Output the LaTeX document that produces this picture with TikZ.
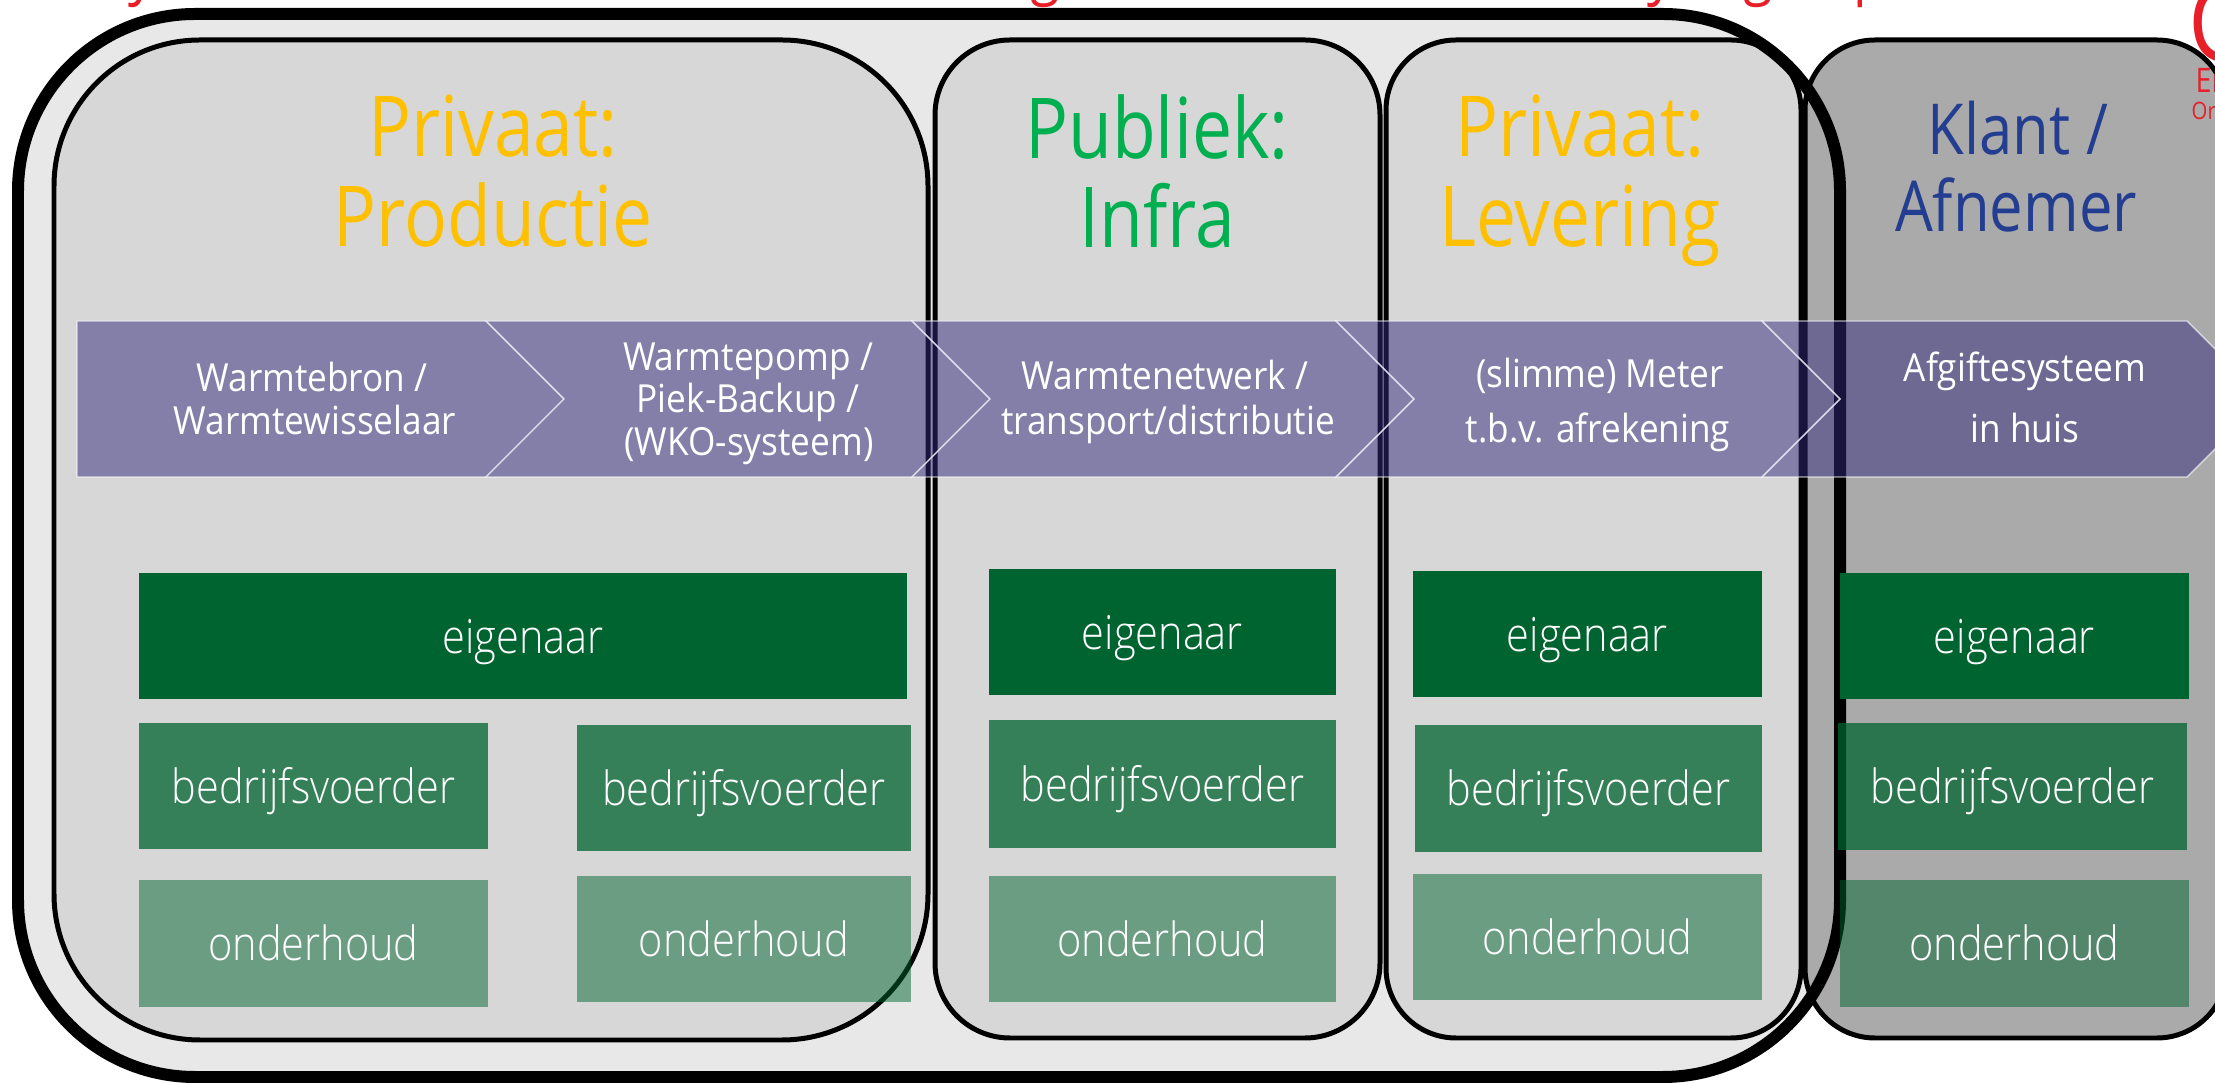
\documentclass[tikz,border=0pt]{standalone}
\usepackage{fontspec}
\IfFontExistsTF{Open Sans Light}{\newfontfamily\litefont{Open Sans Light}[FakeStretch=0.88]}{\newfontfamily\litefont{Open Sans}[FakeStretch=0.88]}
\newfontfamily\chevfont{Open Sans}[FakeStretch=0.91]
\newfontfamily\headfont{Open Sans}[FakeStretch=0.85]
\setmainfont{Open Sans}
\definecolor{outerfill}{HTML}{E8E8E8}
\definecolor{innerfill}{HTML}{D7D7D7}
\definecolor{klantfill}{HTML}{AAAAAA}
\definecolor{bandcol}{RGB}{51,41,125}
\definecolor{greenbox}{RGB}{0,100,48}
\definecolor{orangetitle}{HTML}{FFC000}
\definecolor{greentitle}{HTML}{00B050}
\definecolor{bluetitle}{RGB}{35,62,145}
\definecolor{redtxt}{RGB}{232,30,40}
\begin{document}
\begin{tikzpicture}[x=0.01cm, y=-0.01cm,
  column/.style={draw=black, line width=1.42pt},
  chev/.style={fill=bandcol, fill opacity=0.5, draw=white, draw opacity=0.65, line width=0.4pt},
  rolebox/.style={fill=greenbox, text=white, text opacity=1, inner sep=0pt,
    font=\litefont\fontsize{13.4}{16}\selectfont, text height=12pt, text depth=2.32pt},
  chevtext/.style={text=white, inner sep=0pt, anchor=base, font=\chevfont\fontsize{11}{13}\selectfont},
  titletext/.style={inner sep=0pt, anchor=base, font=\headfont\fontsize{23.9}{26}\selectfont},
  klanttext/.style={inner sep=0pt, anchor=base, text=bluetitle, font=\headfont\fontsize{20}{22}\selectfont},
  redfrag/.style={inner sep=0pt, text=redtxt}
]
\useasboundingbox (0,0) rectangle (2215,1083);
\clip (0,0) rectangle (2215,1083);

% outer container fill
\path[fill=outerfill, rounded corners=1.77cm] (18,14) rectangle (1840,1077);

% columns
\draw[column, fill=innerfill, rounded corners=1.46cm] (54,40) rectangle (928,1040);
\draw[column, fill=innerfill, rounded corners=0.75cm] (935,40) rectangle (1380,1038);
\draw[column, fill=innerfill, rounded corners=0.70cm] (1386,40) rectangle (1801,1038);
\draw[column, fill=klantfill, rounded corners=0.70cm] (1805,40) rectangle (2227,1038);

% outer container border
\draw[line width=3.41pt, rounded corners=1.77cm] (18,14) rectangle (1840,1077);

% process band
\path[chev] (77,321) -- (486,321) -- (564,399) -- (486,477) -- (77,477) -- cycle;
\path[chev] (486,321) -- (912,321) -- (990,399) -- (912,477) -- (486,477) -- (564,399) -- cycle;
\path[chev] (912,321) -- (1336,321) -- (1414,399) -- (1336,477) -- (912,477) -- (990,399) -- cycle;
\path[chev] (1336,321) -- (1762,321) -- (1840,399) -- (1762,477) -- (1336,477) -- (1414,399) -- cycle;
\path[chev] (1762,321) -- (2187,321) -- (2265,399) -- (2187,477) -- (1762,477) -- (1840,399) -- cycle;

\node[chevtext] (c1a) at (312,392) {Warmtebron /};
\node[chevtext] (c1b) at (315,435) {Warmtewisselaar};
\node[chevtext] (c2a) at (748,371) {Warmtepomp /};
\node[chevtext] (c2b) at (748,413) {Piek-Backup /};
\node[chevtext] (c2c) at (749,456) {(WKO-systeem)};
\node[chevtext] (c3a) at (1165,390) {Warmtenetwerk /};
\node[chevtext] (c3b) at (1168,435) {transport/distributie};
\node[chevtext] (c4a) at (1600,388) {(slimme) Meter};
\node[chevtext] (c4b) at (1598,443) {t.b.v. afrekening};
\node[chevtext] (c5a) at (2025,382) {Afgiftesysteem};
\node[chevtext] (c5b) at (2025,443) {in huis};

% role boxes
\node[rolebox, minimum width=7.68cm, minimum height=1.26cm] (pEig) at (523,636) {eigenaar};
\node[rolebox, fill opacity=0.75, minimum width=3.49cm, minimum height=1.26cm] (pBedL) at (313.5,786) {bedrijfsvoerder};
\node[rolebox, fill opacity=0.75, minimum width=3.34cm, minimum height=1.26cm] (pBedR) at (744,788) {bedrijfsvoerder};
\node[rolebox, fill opacity=0.5, minimum width=3.49cm, minimum height=1.27cm] (pOndL) at (313.5,943.5) {onderhoud};
\node[rolebox, fill opacity=0.5, minimum width=3.34cm, minimum height=1.26cm] (pOndR) at (744,939) {onderhoud};

\node[rolebox, minimum width=3.47cm, minimum height=1.26cm] (iEig) at (1162.5,632) {eigenaar};
\node[rolebox, fill opacity=0.75, minimum width=3.47cm, minimum height=1.28cm] (iBed) at (1162.5,784) {bedrijfsvoerder};
\node[rolebox, fill opacity=0.5, minimum width=3.47cm, minimum height=1.26cm] (iOnd) at (1162.5,939) {onderhoud};

\node[rolebox, minimum width=3.49cm, minimum height=1.26cm] (lEig) at (1587.5,634) {eigenaar};
\node[rolebox, fill opacity=0.75, minimum width=3.47cm, minimum height=1.27cm] (lBed) at (1588.5,788.5) {bedrijfsvoerder};
\node[rolebox, fill opacity=0.5, minimum width=3.49cm, minimum height=1.26cm] (lOnd) at (1587.5,937) {onderhoud};

\node[rolebox, minimum width=3.49cm, minimum height=1.26cm] (kEig) at (2014.5,636) {eigenaar};
\node[rolebox, fill opacity=0.75, minimum width=3.49cm, minimum height=1.27cm] (kBed) at (2012.5,786.5) {bedrijfsvoerder};
\node[rolebox, fill opacity=0.5, minimum width=3.49cm, minimum height=1.27cm] (kOnd) at (2014.5,943.5) {onderhoud};

% column titles
\node[titletext, text=orangetitle] (tP1) at (493,157) {Privaat:};
\node[titletext, text=orangetitle] (tP2) at (493,247) {Productie};
\node[titletext, text=greentitle] (tI1) at (1157,159) {Publiek:};
\node[titletext, text=greentitle] (tI2) at (1157,248) {Infra};
\node[titletext, text=orangetitle] (tL1) at (1580,157) {Privaat:};
\node[titletext, text=orangetitle] (tL2) at (1580,247) {Levering};
\node[klanttext] (tK1) at (2018,155) {Klant /};
\node[klanttext] (tK2) at (2016,232) {Afnemer};

% cut-off red fragments at the edges
\node[redfrag, anchor=base west, font=\headfont\fontsize{31}{33}\selectfont] (rG) at (2188,62) {G};
\node[redfrag, anchor=base west, font=\headfont\fontsize{9.6}{11}\selectfont] (rEn) at (2195,93) {En};
\node[redfrag, anchor=base west, font=\headfont\fontsize{6.8}{8}\selectfont] (rOr) at (2191,120) {Or};
\node[redfrag, anchor=base, font=\headfont\fontsize{18}{20}\selectfont] (rd1) at (142,-7) {y};
\node[redfrag, anchor=base, font=\headfont\fontsize{18}{20}\selectfont] (rd2) at (1045,-7) {g};
\node[redfrag, anchor=base, font=\headfont\fontsize{18}{20}\selectfont] (rd3) at (1661,-7) {y};
\node[redfrag, anchor=base, font=\headfont\fontsize{18}{20}\selectfont] (rd4) at (1758,-7) {g};
\node[redfrag, anchor=base, font=\headfont\fontsize{18}{20}\selectfont] (rd5) at (1870,-7) {p};
\end{tikzpicture}
\end{document}
